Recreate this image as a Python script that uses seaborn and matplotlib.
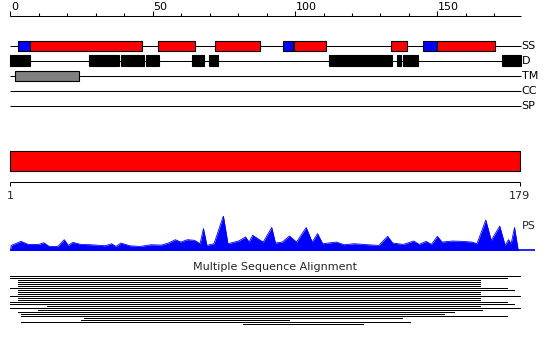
import matplotlib
matplotlib.use("Agg")
import matplotlib.pyplot as plt
import seaborn as sns
import pandas as pd

# ---------------- data ----------------
seq_length = 179
ruler_major = [0, 50, 100, 150]
ruler_minor = [10, 20, 30, 40, 60, 70, 80, 90, 110, 120, 130, 140, 160, 170]
ruler_labels = ["0", "50", "100", "150"]

track_names = ["SS", "D", "TM", "CC", "SP"]

# secondary structure (H = helix, red; E = strand, blue)
ss_start = [2.7, 6.7, 51.9, 72.0, 95.9, 99.7, 133.8, 145.0, 150.0]
ss_end = [6.7, 46.1, 64.9, 87.8, 99.2, 111.0, 139.2, 150.0, 170.1]
ss_type = ["E", "H", "H", "H", "E", "H", "H", "E", "H"]

# disorder
dis_start = [0.0, 27.6, 38.7, 47.6, 63.8, 69.7, 111.9, 135.8, 138.0, 172.7]
dis_end = [6.7, 38.1, 46.8, 52.1, 67.9, 72.8, 133.9, 137.2, 143.1, 179.3]

# transmembrane
tm_start = [1.7]
tm_end = [24.0]

# domain bar
domain_start = [0]
domain_end = [179]
domain_labels = ["1", "179"]

# PS profile
ps_pos = [0, 0.25, 3.7, 6.2, 9.9, 11.7, 13.6, 16.6, 18.9, 20.3, 21.9, 24.7, 28.4,
          33.3, 35.5, 37.0, 38.8, 41.9, 45.6, 49.3, 53.0, 55.5, 57.9, 59.8, 62.2,
          64.7, 66.6, 67.8, 69.0, 71.5, 74.8, 76.4, 80.1, 82.6, 83.8, 85.1, 86.9,
          88.8, 91.8, 93.1, 95.5, 98.0, 100.5, 103.9, 106.0, 107.9, 109.7, 114.6,
          117.1, 120.8, 125.7, 129.4, 132.5, 134.3, 138.0, 141.7, 143.6, 146.0,
          147.9, 150.0, 151.6, 155.3, 158.9, 162.1, 163.9, 167.0, 168.9, 171.9,
          173.8, 175.0, 175.9, 177.1, 178.4]
ps_val = [0, 15, 27, 18, 18, 23, 12, 12, 32, 15, 24, 18, 17,
          14, 20, 12, 22, 14, 12, 17, 16, 22, 32, 25, 32,
          30, 20, 65, 15, 20, 102, 20, 28, 40, 25, 45, 35,
          25, 68, 22, 25, 43, 25, 68, 25, 50, 20, 25,
          17, 20, 17, 15, 42, 22, 18, 28, 18, 27,
          18, 42, 25, 28, 27, 25, 20, 90, 30, 72,
          15, 32, 20, 68, 0]

# multiple sequence alignment coverage (start, end residue)
msa_start = [0, 0, 2.6, 2.6, 2.6, 2.6, 0, 2.6, 2.6, 2.6, 0, 2.6, 2.6, 0, 0,
             13, 0, 9.6, 2.6, 3.8, 3.8, 26, 24.8, 3.8, 81.6]
msa_end = [179, 174.6, 165, 165, 165, 165, 174.6, 177, 165, 165, 179, 165, 165,
           174.6, 177, 165, 179, 165.8, 156, 152.3, 174.6, 137.7, 98, 140.5, 123.7]
msa_title = "Multiple Sequence Alignment"

# ---------------- drawing ----------------
sns.set_theme(style="white")
plt.rcParams["font.family"] = ["DejaVu Sans"]

W, H = 550, 345
fig = plt.figure(figsize=(5.5, 3.45), dpi=100)
fig.patch.set_facecolor("white")

PX = 2.846   # pixels per residue
X0 = 10.5    # pixel of residue 0
xlim = (-X0 / PX, (W - X0) / PX)

ax = fig.add_axes([0, 0, 1, 1])
ax.set_xlim(*xlim)
ax.set_ylim(H, 0)
ax.axis("off")

lw1 = 0.75
fs = 8

# top ruler
ruler_end = 179.4
ax.hlines(15.5, 0, ruler_end, color="black", lw=lw1)
ax.vlines(ruler_major, 11, 15.5, color="black", lw=lw1)
ax.vlines(ruler_minor, 12.8, 15.5, color="black", lw=lw1)
for p, lab in zip(ruler_major, ruler_labels):
    ax.text(p + 0.3, 10, lab, ha="left", va="baseline", fontsize=fs, color="black")

# tracks
rows = [45.5, 60.5, 75.5, 90.5, 105.5]
for y, name in zip(rows, track_names):
    ax.hlines(y, 0, ruler_end, color="black", lw=lw1, zorder=1)
    ax.text(ruler_end + 0.2, y + 0.3, name, ha="left", va="center", fontsize=fs, color="black")

ss_colors = {"H": "#FF0000", "E": "#0000FF"}
ax.barh([rows[0]] * len(ss_start), [e - s for s, e in zip(ss_start, ss_end)], left=ss_start,
        height=10, color=[ss_colors[t] for t in ss_type], edgecolor="black", lw=0.8, zorder=2)
ax.barh([rows[1]] * len(dis_start), [e - s for s, e in zip(dis_start, dis_end)], left=dis_start,
        height=10.4, color="black", edgecolor="black", lw=0.8, zorder=2)
ax.barh([rows[2]] * len(tm_start), [e - s for s, e in zip(tm_start, tm_end)], left=tm_start,
        height=10, color="#808080", edgecolor="black", lw=0.8, zorder=2)

# domain bar and bottom ruler
ax.barh([160.5], [domain_end[0] - domain_start[0]], left=domain_start, height=20,
        color="#FF0000", edgecolor="black", lw=0.8)
ax.hlines(181.5, domain_start[0], domain_end[0], color="black", lw=lw1)
ax.vlines([domain_start[0], domain_end[0]], 181.5, 185.5, color="black", lw=lw1)
ax.text(domain_start[0], 199, domain_labels[0], ha="center", va="baseline", fontsize=fs)
ax.text(domain_end[0], 199, domain_labels[1], ha="center", va="baseline", fontsize=fs)

# PS label
ax.text(ruler_end + 0.2, 226, "PS", ha="left", va="center", fontsize=fs)

# MSA
ax.text((W / 2 - X0) / PX, 270, msa_title, ha="center", va="baseline", fontsize=fs)
msa_y = [275.5 + 2 * i for i in range(len(msa_start))]
ax.hlines(msa_y, msa_start, msa_end, color="black", lw=0.6, antialiased=False)

# PS profile axes
ps_base = 250.5
ps_h = 34.5
ax_ps = fig.add_axes([0, (H - ps_base) / H, 1, ps_h / H])
ax_ps.set_xlim(*xlim)
ax_ps.set_ylim(0, 102)
ax_ps.axis("off")
ax_ps.patch.set_alpha(0)
df = pd.DataFrame({"pos": ps_pos, "val": ps_val})
ax_ps.fill_between(df["pos"], 0, df["val"], color="#0000FF", lw=0)
sns.lineplot(data=df, x="pos", y="val", ax=ax_ps, color="#0000FF", lw=0.6, legend=False)
ax_ps.hlines(0.5, 0, 184.3, color="#0000FF", lw=1.2)
ax_ps.axis("off")

fig.savefig("out.png", dpi=100, facecolor="white")
